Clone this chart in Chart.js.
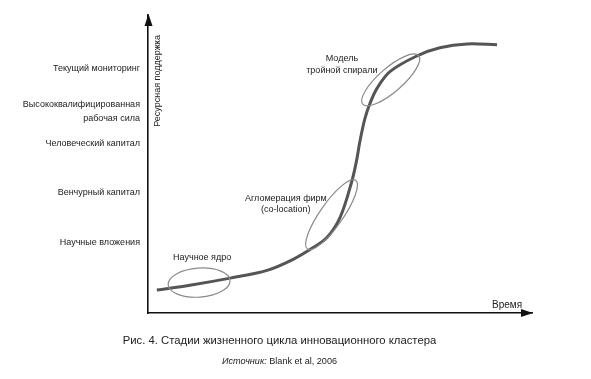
<!DOCTYPE html>
<html>
<head>
<meta charset="utf-8">
<script src="https://cdn.jsdelivr.net/npm/chart.js@4"></script>
<style>
  html, body { margin:0; padding:0; background:#fff; }
  #wrap { position:relative; width:591px; height:379px; }
  canvas { position:absolute; left:0; top:0; }
  .cap { position:absolute; left:-16px; width:591px; text-align:center; font-family:"Liberation Sans", Arial, sans-serif; color:#222; white-space:nowrap; }
</style>
</head>
<body>
<div id="wrap">
  <canvas id="c" width="591" height="379"></canvas>
  <div class="cap" id="cap1" style="top:334px; font-size:11.3px;">Рис. 4. Стадии жизненного цикла инновационного кластера</div>
  <div class="cap" id="cap2" style="top:356px; font-size:9.1px;"><i>Источник:</i> Blank et al, 2006</div>
</div>
<script>
// ---- data ----
const timeValues = [2.3, 10.9, 21.4, 31.0, 37.8, 42.7, 46.6, 50.0, 53.1, 54.4, 55.2, 56.5, 57.8, 59.6, 63.0, 70.1, 76.0, 83.1, 90.9];
const supportValues = [7.7, 9.3, 11.7, 14.3, 18.0, 21.7, 25.3, 32.0, 44.3, 51.7, 57.7, 65.3, 70.3, 75.3, 81.0, 86.3, 89.0, 90.3, 90.0];
const tickValues = [82.1, 67.7, 57.0, 40.3, 23.7];
const tickLabels = [
  'Текущий мониторинг',
  ['Высококвалифицированная', 'рабочая сила'],
  'Человеческий капитал',
  'Венчурный капитал',
  'Научные вложения'
];
const stageNames = [['Научное ядро'], ['Агломерация фирм', '(co-location)'], ['Модель', 'тройной спирали']];
const stageCenters = [[13.3, 10.2], [47.8, 33.0], [63.2, 78.2]];
const stageLabelAnchors = [[14.1, 18.7], [35.9, 38.5], [50.5, 85.3]];
const yTitle = 'Ресурсная поддержка';
const xTitle = 'Время';

// ---- styles ----
const FONT = '"Liberation Sans", Arial, sans-serif';
const ellipseShapes = [
  { rx: 31, ry: 14.5, rot: -4 },
  { rx: 42, ry: 11.5, rot: -55 },
  { rx: 37, ry: 12, rot: -41 }
];

const decorPlugin = {
  id: 'decor',
  afterDatasetsDraw(chart) {
    const ctx = chart.ctx, xs = chart.scales.x, ys = chart.scales.y, a = chart.chartArea;
    ctx.save();
    // ellipses
    ctx.strokeStyle = '#8a8a8a';
    ctx.lineWidth = 1.2;
    stageCenters.forEach((c, i) => {
      const s = ellipseShapes[i];
      ctx.beginPath();
      ctx.ellipse(xs.getPixelForValue(c[0]), ys.getPixelForValue(c[1]), s.rx, s.ry, s.rot * Math.PI / 180, 0, Math.PI * 2);
      ctx.stroke();
    });
    // stage labels
    ctx.fillStyle = '#222';
    ctx.font = '9px ' + FONT;
    ctx.textAlign = 'center';
    ctx.textBaseline = 'middle';
    stageNames.forEach((lines, i) => {
      const px = xs.getPixelForValue(stageLabelAnchors[i][0]);
      const py = ys.getPixelForValue(stageLabelAnchors[i][1]);
      lines.forEach((t, j) => ctx.fillText(t, px, py + j * 11.5));
    });
    // arrows
    ctx.fillStyle = '#111';
    ctx.beginPath();
    ctx.moveTo(a.left + 0.5, a.top - 1);
    ctx.lineTo(a.left - 3.5, a.top + 11);
    ctx.lineTo(a.left + 4.5, a.top + 11);
    ctx.closePath();
    ctx.fill();
    ctx.beginPath();
    ctx.moveTo(a.right + 1, a.bottom);
    ctx.lineTo(a.right - 11, a.bottom - 4);
    ctx.lineTo(a.right - 11, a.bottom + 4);
    ctx.closePath();
    ctx.fill();
    // axis titles
    ctx.fillStyle = '#222';
    ctx.font = '10px ' + FONT;
    ctx.textAlign = 'center';
    ctx.textBaseline = 'middle';
    ctx.fillText(xTitle, a.right - 25, a.bottom - 8);
    ctx.font = '9px ' + FONT;
    ctx.translate(a.left + 10, a.top + 66);
    ctx.rotate(-Math.PI / 2);
    ctx.fillText(yTitle, 0, 0);
    ctx.restore();
  }
};

new Chart(document.getElementById('c'), {
  type: 'line',
  data: {
    datasets: [{
      data: timeValues.map((x, i) => ({ x: x, y: supportValues[i] })),
      borderColor: '#555',
      borderWidth: 3,
      pointRadius: 0,
      tension: 0.35,
      fill: false
    }]
  },
  options: {
    responsive: false,
    animation: false,
    layout: { padding: { left: 0, top: 13, right: 59, bottom: 66 } },
    plugins: { legend: { display: false }, tooltip: { enabled: false } },
    scales: {
      x: {
        type: 'linear', min: 0, max: 100,
        grid: { display: false, drawTicks: false },
        border: { display: true, color: '#111', width: 1.6 },
        ticks: { display: false },
        afterFit(s) { s.height = 0; }
      },
      y: {
        type: 'linear', min: 0, max: 100,
        grid: { display: false, drawTicks: false },
        border: { display: true, color: '#111', width: 1.6 },
        afterBuildTicks(s) { s.ticks = tickValues.map(v => ({ value: v })); },
        afterFit(s) { s.width = 148; },
        ticks: {
          autoSkip: false,
          padding: 8,
          color: '#222',
          font: { family: FONT, size: 9, lineHeight: 1.55 },
          callback(v) { const i = tickValues.indexOf(v); return i >= 0 ? tickLabels[i] : ''; }
        }
      }
    }
  },
  plugins: [decorPlugin]
});
</script>
</body>
</html>
